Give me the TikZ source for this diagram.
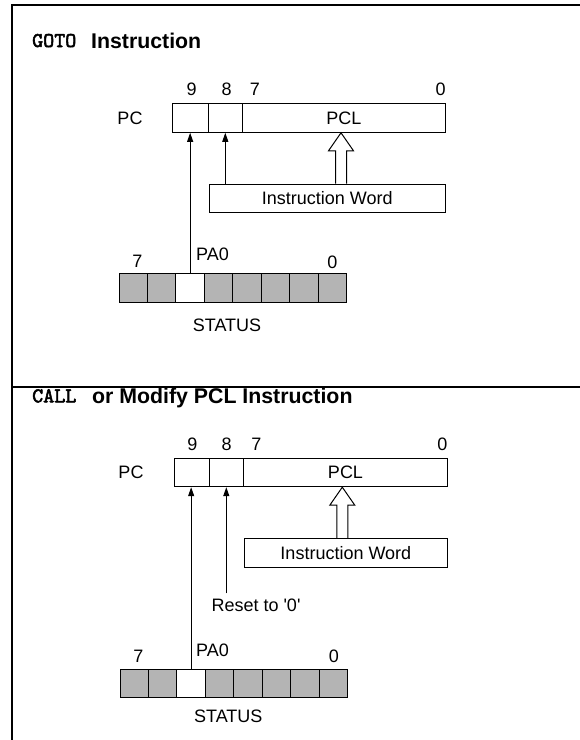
\documentclass[tikz,border=0pt]{standalone}
\usepackage{fontspec}
\setmainfont{Liberation Sans}
\newfontfamily\rawfont{Liberation Sans}
\newfontfamily\codefont{lmmono10-regular.otf}[FakeBold=2.5]
\usetikzlibrary{arrows.meta,calc}
\definecolor{cellgray}{RGB}{180,180,180}
\tikzset{
  lbl/.style={inner sep=0pt, font=\fontsize{18}{20}\selectfont},
  regbox/.style={draw, line width=1pt, inner sep=0pt, minimum height=29pt, font=\fontsize{18}{20}\selectfont},
  stcell/.style={draw, line width=1pt, inner sep=0pt, minimum width=28.46pt, minimum height=29pt},
  arr/.style={line width=1pt, -{Triangle[length=9pt,width=6pt]}},
  hollow/.style={draw, line width=1pt, fill=white, line join=miter},
  ttl/.style={inner sep=0pt, anchor=base west, font=\fontsize{21.3}{24}\selectfont\bfseries},
  code/.style={inner sep=0pt, anchor=base west, font=\fontsize{21}{24}\codefont},
  frameline/.style={line width=2pt}
}
\begin{document}
\begin{tikzpicture}[x=1pt,y=-1pt]
\useasboundingbox (0,0) rectangle (580,740);
% frame
\draw[frameline] (11.5,740) -- (11.5,4.7) -- (580,4.7);
\draw[line width=1.4pt] (11.5,387) -- (580,387);

% ===== GOTO section =====
\node[code] (tA1) at (32,47) {GOTO};
\node[ttl] (tA2) at (91,48.3) {Instruction};

\node[regbox, minimum width=36pt] (pcA9) at (190.3,117.8) {};
\node[regbox, minimum width=34pt] (pcA8) at (225.3,117.8) {};
\node[regbox, minimum width=203pt] (pclA) at (343.8,117.8) {PCL};
\node[lbl] (pcAlbl) at (130,118) {PC};
\node[lbl] (bA9) at (191.7,89.3) {9};
\node[lbl] (bA8) at (226.7,89.3) {8};
\node[lbl] (bA7) at (255,89.3) {7};
\node[lbl] (bA0) at (440.7,89.3) {0};

\node[regbox, minimum width=236pt, minimum height=28pt] (iwA) at (327.3,198) {Instruction Word};

\foreach \i/\c in {0/cellgray,1/cellgray,2/white,3/cellgray,4/cellgray,5/cellgray,6/cellgray,7/cellgray}{
  \node[stcell, fill=\c] (stA\i) at ({133.23+28.46*\i},287.8) {};
}
\node[lbl] (sA7) at (137.3,261.7) {7};
\node[lbl] (sA0) at (332.3,262) {0};
\node[lbl] (paA) at (212.5,254) {PA0};
\node[lbl] (statA) at (227,325) {STATUS};

\draw[arr] (stA2.north) -- (stA2.north |- pcA9.south);
\draw[arr] (iwA.north -| pcA8.south) -- (pcA8.south);
\coordinate (hbA) at (iwA.north -| 341,0);
\coordinate (htA) at (pclA.south -| 341,0);
\draw[hollow] ($(hbA)+(-5.5,0)$) -- ($(htA)+(-5.5,18)$) -- ($(htA)+(-12.5,18)$) -- (htA)
  -- ($(htA)+(12.5,18)$) -- ($(htA)+(5.5,18)$) -- ($(hbA)+(5.5,0)$);

% ===== CALL section =====
\node[code] (tB1) at (32,402.3) {CALL};
\node[ttl] (tB2) at (92,403.3) {or Modify PCL Instruction};

\node[regbox, minimum width=35.3pt, minimum height=28.4pt] (pcB9) at (191.65,472.5) {};
\node[regbox, minimum width=34pt, minimum height=28.4pt] (pcB8) at (226.3,472.5) {};
\node[regbox, minimum width=204.4pt, minimum height=28.4pt] (pclB) at (345.5,472.5) {PCL};
\node[lbl] (pcBlbl) at (131,472.5) {PC};
\node[lbl] (bB9) at (192.3,444.3) {9};
\node[lbl] (bB8) at (226.7,444.3) {8};
\node[lbl] (bB7) at (256.5,444.3) {7};
\node[lbl] (bB0) at (442.4,444.3) {0};

\node[regbox, minimum width=203.7pt] (iwB) at (345.85,552.8) {Instruction Word};
\node[lbl, inner sep=5pt, font=\fontsize{18}{20}\rawfont] (reset) at (256,605) {Reset to '0'};

\foreach \i/\c in {0/cellgray,1/cellgray,2/white,3/cellgray,4/cellgray,5/cellgray,6/cellgray,7/cellgray}{
  \node[stcell, fill=\c, minimum height=28.3pt] (stB\i) at ({134.23+28.46*\i},683.2) {};
}
\node[lbl] (sB7) at (138.3,656) {7};
\node[lbl] (sB0) at (334,656) {0};
\node[lbl] (paB) at (212.5,650) {PA0};
\node[lbl] (statB) at (228.3,716.7) {STATUS};

\draw[arr] (stB2.north) -- (stB2.north |- pcB9.south);
\draw[arr] (reset.north -| pcB8.south) -- (pcB8.south);
\coordinate (hbB) at (iwB.north -| 342.3,0);
\coordinate (htB) at (pclB.south -| 342.3,0);
\draw[hollow] ($(hbB)+(-5.5,0)$) -- ($(htB)+(-5.5,18)$) -- ($(htB)+(-12.5,18)$) -- (htB)
  -- ($(htB)+(12.5,18)$) -- ($(htB)+(5.5,18)$) -- ($(hbB)+(5.5,0)$);
\end{tikzpicture}
\end{document}
